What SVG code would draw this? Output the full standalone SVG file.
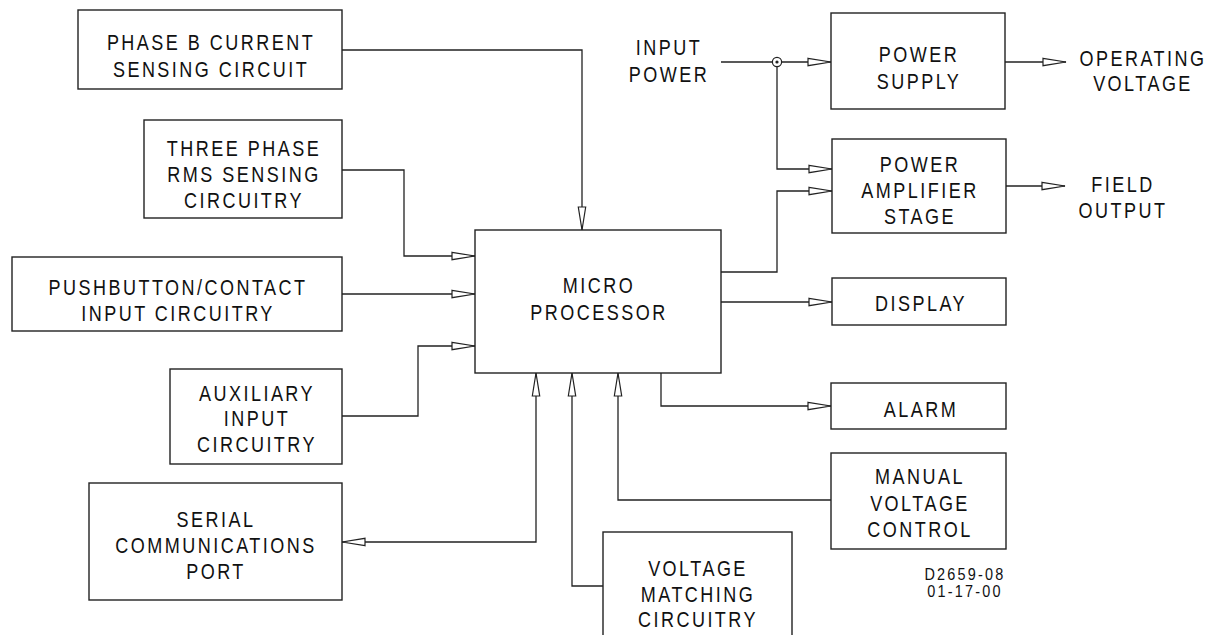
<svg xmlns="http://www.w3.org/2000/svg" width="1215" height="635" viewBox="0 0 1215 635">
<style>
.box{fill:#fff;stroke:#222;stroke-width:1.4}
.ln{fill:none;stroke:#222;stroke-width:1.3}
.arr{marker-end:url(#ah)}
text{font-family:"Liberation Sans",Arial,sans-serif;font-size:22px;letter-spacing:3px;fill:#111;text-anchor:middle}
text.sm{font-size:17px;letter-spacing:2.6px}
</style>
<defs>
<marker id="ah" markerUnits="userSpaceOnUse" markerWidth="26" markerHeight="10" viewBox="-1 -5 26 10" refX="23" refY="0" orient="auto-start-reverse" overflow="visible">
<path d="M0,-3.7 L23,0 L0,3.7 Z" fill="#fff" stroke="#222" stroke-width="1.2"/>
</marker>
</defs>
<rect width="1215" height="635" fill="#fff"/>
<g id="connectors">
<path class="ln arr" d="M342,50 H582 V230"/>
<path class="ln arr" d="M342,170 H404 V256 H475"/>
<path class="ln arr" d="M342,294 H475"/>
<path class="ln arr" d="M342,416 H418 V346 H475"/>
<path class="ln arr" style="marker-start:url(#ah)" d="M342,542 H536 V373"/>
<path class="ln arr" d="M603,586 H572 V373"/>
<path class="ln arr" d="M831,500 H618 V373"/>
<path class="ln arr" d="M661,373 V406 H831"/>
<path class="ln arr" d="M721,302 H832"/>
<path class="ln arr" d="M721,272 H777 V191 H832"/>
<path class="ln arr" d="M777,62 V169 H832"/>
<path class="ln arr" d="M721,62 H831"/>
<path class="ln arr" d="M1005,62 H1066"/>
<path class="ln arr" d="M1006,186 H1065"/>
<circle cx="777" cy="62" r="4.6" fill="#fff" stroke="#222" stroke-width="1.2"/>
<circle cx="777" cy="62" r="1.6" fill="#222"/>
</g>
<g id="phaseB">
<rect class="box" x="78" y="10" width="264" height="79"/>
<text transform="matrix(0.82 0 0 1 211 50)">PHASE B CURRENT</text>
<text transform="matrix(0.82 0 0 1 211 77)">SENSING CIRCUIT</text>
</g>
<g id="threePhase">
<rect class="box" x="144" y="120" width="198" height="98"/>
<text transform="matrix(0.82 0 0 1 244 156)">THREE PHASE</text>
<text transform="matrix(0.82 0 0 1 244 182)">RMS SENSING</text>
<text transform="matrix(0.82 0 0 1 244 208)">CIRCUITRY</text>
</g>
<g id="pushbutton">
<rect class="box" x="12" y="257" width="330" height="74"/>
<text transform="matrix(0.82 0 0 1 178 295)">PUSHBUTTON/CONTACT</text>
<text transform="matrix(0.82 0 0 1 178 321)">INPUT CIRCUITRY</text>
</g>
<g id="auxiliary">
<rect class="box" x="170" y="369" width="172" height="95"/>
<text transform="matrix(0.82 0 0 1 257 401)">AUXILIARY</text>
<text transform="matrix(0.82 0 0 1 257 426)">INPUT</text>
<text transform="matrix(0.82 0 0 1 257 452)">CIRCUITRY</text>
</g>
<g id="serial">
<rect class="box" x="89" y="483" width="253" height="117"/>
<text transform="matrix(0.82 0 0 1 216 527)">SERIAL</text>
<text transform="matrix(0.82 0 0 1 216 553)">COMMUNICATIONS</text>
<text transform="matrix(0.82 0 0 1 216 579)">PORT</text>
</g>
<g id="micro">
<rect class="box" x="475" y="230" width="246" height="143"/>
<text transform="matrix(0.82 0 0 1 599 293)">MICRO</text>
<text transform="matrix(0.82 0 0 1 599 320)">PROCESSOR</text>
</g>
<g id="voltageMatching">
<rect class="box" x="603" y="532" width="189" height="120"/>
<text transform="matrix(0.82 0 0 1 698 576)">VOLTAGE</text>
<text transform="matrix(0.82 0 0 1 698 602)">MATCHING</text>
<text transform="matrix(0.82 0 0 1 698 627)">CIRCUITRY</text>
</g>
<g id="inputPower">
<text transform="matrix(0.82 0 0 1 669 55)">INPUT</text>
<text transform="matrix(0.82 0 0 1 669 82)">POWER</text>
</g>
<g id="powerSupply">
<rect class="box" x="831" y="13" width="174" height="96"/>
<text transform="matrix(0.82 0 0 1 919 62)">POWER</text>
<text transform="matrix(0.82 0 0 1 919 89)">SUPPLY</text>
</g>
<g id="operatingVoltage">
<text transform="matrix(0.82 0 0 1 1143 66)">OPERATING</text>
<text transform="matrix(0.82 0 0 1 1143 91)">VOLTAGE</text>
</g>
<g id="powerAmplifier">
<rect class="box" x="832" y="139" width="174" height="94"/>
<text transform="matrix(0.82 0 0 1 920 172)">POWER</text>
<text transform="matrix(0.82 0 0 1 920 198)">AMPLIFIER</text>
<text transform="matrix(0.82 0 0 1 920 224)">STAGE</text>
</g>
<g id="fieldOutput">
<text transform="matrix(0.82 0 0 1 1123 192)">FIELD</text>
<text transform="matrix(0.82 0 0 1 1123 218)">OUTPUT</text>
</g>
<g id="display">
<rect class="box" x="832" y="278" width="174" height="47"/>
<text transform="matrix(0.82 0 0 1 921 311)">DISPLAY</text>
</g>
<g id="alarm">
<rect class="box" x="831" y="383" width="175" height="46"/>
<text transform="matrix(0.82 0 0 1 921 417)">ALARM</text>
</g>
<g id="manualVoltage">
<rect class="box" x="831" y="453" width="175" height="96"/>
<text transform="matrix(0.82 0 0 1 920 484)">MANUAL</text>
<text transform="matrix(0.82 0 0 1 920 511)">VOLTAGE</text>
<text transform="matrix(0.82 0 0 1 920 537)">CONTROL</text>
</g>
<g id="drawingNumber">
<text class="sm" transform="matrix(0.85 0 0 1 965 580)">D2659-08</text>
<text class="sm" transform="matrix(0.85 0 0 1 965 597)">01-17-00</text>
</g>
</svg>
